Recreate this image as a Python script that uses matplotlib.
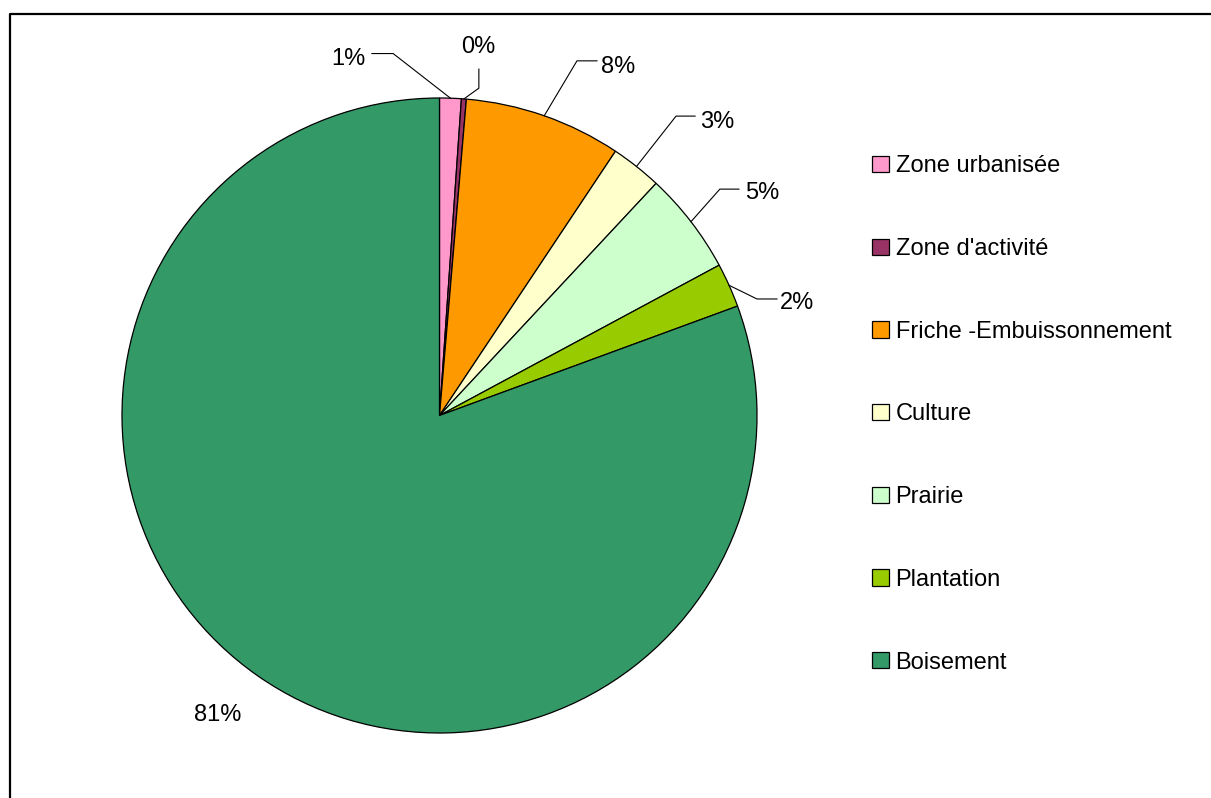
import numpy as np
import matplotlib
matplotlib.use("agg")
import matplotlib.pyplot as plt
from matplotlib.lines import Line2D

plt.rcParams['font.family'] = ['Liberation Sans', 'DejaVu Sans']

# data (percent of surface)
categories = ["Zone urbanisée", "Zone d'activité", "Friche -Embuissonnement",
              "Culture", "Prairie", "Plantation", "Boisement"]
values = [1.1, 0.25, 8.0, 2.6, 5.2, 2.25, 80.6]
colors = ["#FF99CC", "#993366", "#FF9900", "#FFFFCC", "#CCFFCC", "#99CC00", "#339966"]

# label layout (data coords, pie radius = 1): text centre, end of leader, elbow
label_pos = [(-0.288, 1.124), (0.121, 1.161), (0.562, 1.098), (0.874, 0.924),
             (1.016, 0.701), (1.126, 0.354), (-0.698, -0.943)]
leader_end = [(-0.213, 1.140), (0.124, 1.091), (0.496, 1.117), (0.805, 0.943),
              (0.943, 0.713), (1.063, 0.367), None]
leader_elbow = [(-0.146, 1.140), (0.124, 1.031), (0.433, 1.117), (0.745, 0.943),
                (0.883, 0.713), (1.0, 0.367), None]

W, H = 1211, 798
fig = plt.figure(figsize=(W/100, H/100), dpi=100)

# pie centre (439.5, 415.5) px, radius 317.5 px
cx, cy, r = 439.5, 415.5, 317.5
lim = 1.3
ax = fig.add_axes([(cx - lim*r)/W, (H - cy - lim*r)/H, 2*lim*r/W, 2*lim*r/H])

wedges, _ = ax.pie(values, colors=colors, startangle=90, counterclock=False,
                   wedgeprops=dict(edgecolor="black", linewidth=0.9))
ax.set_xlim(-lim, lim)
ax.set_ylim(-lim, lim)
ax.axis("off")

total = sum(values)
for i, w in enumerate(wedges):
    pct = "%d%%" % round(values[i] / total * 100)
    tx, ty = label_pos[i]
    ax.text(tx, ty, pct, ha="center", va="center", fontsize=17)
    if leader_end[i] is not None:
        mid = np.radians((w.theta1 + w.theta2) / 2)
        ax_pt = (np.cos(mid), np.sin(mid))
        xs = [ax_pt[0], leader_elbow[i][0], leader_end[i][0]]
        ys = [ax_pt[1], leader_elbow[i][1], leader_end[i][1]]
        ax.plot(xs, ys, color="black", linewidth=0.8, clip_on=False)

leg = fig.legend(wedges, categories, loc="upper left",
                 bbox_to_anchor=(863/W, 1 - 146/H), frameon=False,
                 fontsize=17, handlelength=0.68, handleheight=0.68,
                 handletextpad=0.3, labelspacing=2.57, borderaxespad=0)
for h in leg.legend_handles:
    h.set_linewidth(0.9)

# outer frame (cut by the image edges)
fig.add_artist(Line2D([10/W, 10/W, 1.01], [-0.01, 1 - 14/H, 1 - 14/H],
                      transform=fig.transFigure, color="black", linewidth=1.6))

fig.savefig("out.png", dpi=100)
